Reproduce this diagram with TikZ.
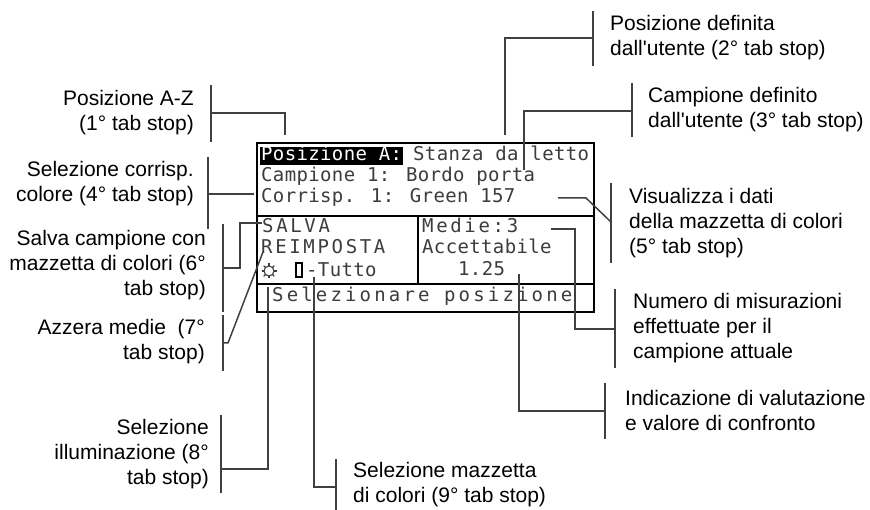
\documentclass[tikz,border=0pt]{standalone}
\usepackage{fontspec}
\setmainfont{Liberation Sans}
\newfontfamily\lcdfont[LetterSpace=1.9]{DejaVu Sans Mono}
\newfontfamily\lcdwide[LetterSpace=14]{DejaVu Sans Mono}
\newfontfamily\lcdwider[LetterSpace=16.6]{DejaVu Sans Mono}
\usetikzlibrary{positioning, calc}
\definecolor{leadergray}{HTML}{404040}
\definecolor{lcdgray}{HTML}{3C3C3C}
\tikzset{
    lbl/.style={inner sep=0pt, font=\fontsize{21}{25}\selectfont},
    lblleft/.style={lbl, anchor=east, align=right},
    lblright/.style={lbl, anchor=west, align=left},
    lcd/.style={inner sep=0pt, anchor=base west, text=lcdgray, font=\fontsize{19}{21}\lcdfont},
    lcdw/.style={lcd, font=\fontsize{19}{21}\lcdwide},
    leader/.style={draw=leadergray, line width=1.5pt},
    frame/.style={draw=black, line width=1.6pt}
}

\begin{document}
\begin{tikzpicture}[x=1pt, y=-1pt]
\useasboundingbox (0,0) rectangle (870,510);

% Screen
\draw[frame] (257,143) rectangle (594,312);
\draw[frame] (257,216) -- (594,216);
\draw[frame] (257,284) -- (594,284);
\draw[frame] (418,216) -- (418,284);

% Screen text
\node[lcd, fill=black, text=white, inner xsep=1pt, text height=14pt, text depth=4pt] (posA) at (260,161) {Posizione A:};
\node[lcd] (stanza) at (413,161) {Stanza da letto};
\node[lcd] (campione) at (261,182) {Campione 1: Bordo porta};
\node[lcd] (corrisp) at (261,203) {Corrisp. 1: Green 157};
\node[lcdw] (salva) at (262,233) {SALVA};
\node[lcdw] (reimposta) at (261,254) {REIMPOSTA};
\node[lcd] (tutto) at (306,277) {-Tutto};
\node[lcdw] (medie) at (422,233) {Medie:3};
\node[lcd] (accett) at (422,254) {Accettabile};
\node[lcd] (valore) at (458,276) {1.25};
\node[lcd, font=\fontsize{19}{21}\lcdwider] (selpos) at (272,302) {Selezionare posizione};

% Icons
\coordinate (sun) at (269,271);
\draw[lcdgray, line width=1.1pt] (sun) circle (5);
\foreach \i in {0,45,...,315} {
    \draw[lcdgray, line width=1.1pt] ($(sun)+(\i:5)$) -- ($(sun)+(\i:7.5)$);
}
\draw[draw=black, line width=1.3pt] (296,263) rectangle (302,277);

% Labels
\node[lblleft] (lblA) at (194,113) {Posizione A-Z\\(1° tab stop)};
\node[lblleft] (lblD) at (194,184) {Selezione corrisp.\\colore (4° tab stop)};
\node[lblleft] (lblF) at (206,265) {Salva campione con\\mazzetta di colori (6°\\tab stop)};
\node[lblleft] (lblG) at (205,342) {Azzera medie\ \ (7°\\tab stop)};
\node[lblleft] (lblH) at (209,454) {Selezione\\illuminazione (8°\\tab stop)};
\node[lblright] (lblI) at (353,485) {Selezione mazzetta\\di colori (9° tab stop)};
\node[lblright] (lblB) at (610,38) {Posizione definita\\dall\textquotesingle utente (2° tab stop)};
\node[lblright] (lblC) at (648,110) {Campione definito\\dall\textquotesingle utente (3° tab stop)};
\node[lblright] (lblE) at (629,223) {Visualizza i dati\\della mazzetta di colori\\(5° tab stop)};
\node[lblright] (lblN) at (633,328) {Numero di misurazioni\\effettuate per il\\campione attuale};
\node[lblright] (lblV) at (625,410) {Indicazione di valutazione\\e valore di confronto};

% Leader anchor points
\coordinate (barA) at (211,113);
\coordinate (barD) at (208,194);
\coordinate (barF) at (223,268);
\coordinate (barG) at (223,343);
\coordinate (barH) at (221,469);
\coordinate (barI) at (336,487);
\coordinate (barB) at (593,38);
\coordinate (barC) at (632,111);
\coordinate (barE) at (611,222);
\coordinate (barN) at (615,329);
\coordinate (barV) at (605,411);

% Bars beside the labels
\foreach \nm/\up/\dn in {barA/-28/29, barD/-37/35, barF/-44/44, barG/-28/28, barH/-54/24,
    barI/-28/23, barB/-27/28, barC/-28/26, barE/-39/41, barN/-40/39, barV/-28/28} {
    \draw[leader] ($(\nm)+(0,\up)$) -- ($(\nm)+(0,\dn)$);
}

% Leaders
\coordinate (tipA) at (285,135);
\coordinate (tipD) at (254,194);
\coordinate (tipF) at (262,223);
\coordinate (tipG) at (263,252);
\coordinate (tipH) at (268,287);
\coordinate (tipI) at (314,277);
\coordinate (tipB) at (505,135);
\coordinate (tipC) at (524,170);
\coordinate (tipE) at (558,198);
\coordinate (tipN) at (551,229);
\coordinate (tipV) at (519,274);

\draw[leader] (barA) -| (tipA);
\draw[leader] (barD) -- (tipD);
\draw[leader] (barF) -- (240,268) |- (tipF);
\draw[leader] (barG) -- (228,343) -- (tipG);
\draw[leader] (barH) -| (tipH);
\draw[leader] (barI) -| (tipI);
\draw[leader] (barB) -| (tipB);
\draw[leader] (barC) -| (tipC);
\draw[leader] (tipE) -- (586,198) -- (barE);
\draw[leader] (barN) -- (575,329) |- (tipN);
\draw[leader] (barV) -| (tipV);
\end{tikzpicture}
\end{document}
